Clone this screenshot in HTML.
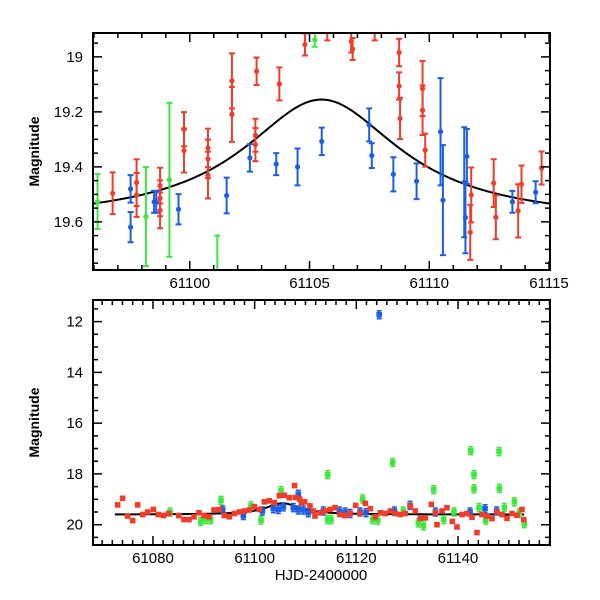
<!DOCTYPE html>
<html><head><meta charset="utf-8"><style>
html,body{margin:0;padding:0;background:#fff;}
svg{display:block;font-family:"Liberation Sans",sans-serif;}
</style></head><body>
<svg id="chart" width="600" height="600" viewBox="0 0 600 600">
<g id="top"></g>
<g id="bot"></g>
</svg>
<script>
// ---- top panel data (HJD-2400000, magnitude, error) ----
const topRedT=[61096.78,61097.78,61097.78,61098.76,61098.76,61098.76,61099.76,61099.76,61100.76,61100.76,61100.76,61101.76,61101.76,61102.74,61102.74,61102.79,61103.74,61104.81,61105.74,61106.74,61106.80,61107.72,61108.74,61108.74,61108.78,61109.72,61109.72,61109.83,61111.71,61111.75,61112.69,61112.78,61113.71,61113.85,61114.69];
const topRedM=[19.496,19.457,19.502,19.468,19.514,19.558,19.263,19.341,19.331,19.371,19.430,19.087,19.209,19.285,19.319,19.052,19.098,18.955,18.90,18.944,18.971,18.88,18.984,19.106,19.224,19.115,19.194,19.339,19.638,19.502,19.459,19.583,19.560,19.463,19.404];
const topRedE=[0.076,0.085,0.08,0.065,0.065,0.065,0.062,0.08,0.07,0.07,0.085,0.1,0.1,0.06,0.06,0.05,0.06,0.04,0.04,0.04,0.04,0.06,0.05,0.05,0.075,0.1,0.09,0.06,0.1,0.1,0.087,0.08,0.097,0.068,0.06];
const topBlueT=[61097.53,61097.53,61098.51,61098.60,61099.53,61101.54,61102.51,61103.61,61104.50,61105.51,61107.49,61107.60,61108.50,61109.47,61110.47,61110.57,61111.46,61111.51,61111.57,61113.47,61114.44];
const topBlueM=[19.480,19.619,19.527,19.527,19.554,19.504,19.367,19.390,19.400,19.307,19.247,19.359,19.427,19.452,19.272,19.521,19.456,19.584,19.362,19.527,19.492];
const topBlueE=[0.05,0.055,0.04,0.04,0.055,0.065,0.05,0.04,0.067,0.05,0.06,0.045,0.062,0.065,0.195,0.2,0.2,0.13,0.1,0.04,0.04];
const topGreenT=[61096.15,61098.17,61099.15,61101.15,61105.22,61114.17];
const topGreenM=[19.526,19.581,19.447,19.85,18.938,19.88];
const topGreenE=[0.1,0.18,0.28,0.2,0.025,0.1];
// ---- bottom panel data ----
const botRedT=[61073.05,61074.03,61075.02,61076.0,61076.98,61077.97,61078.95,61080.07,61081.05,61082.10,61083.08,61085.05,61086.10,61087.08,61088.07,61089.05,61090.03,61091.02,61092.0,61093.05,61094.03,61095.02,61096.0,61096.99,61097.97,61098.95,61099.94,61100.92,61101.90,61102.89,61103.87,61104.86,61105.84,61106.82,61107.87,61108.0,61108.85,61109.18,61109.84,61110.89,61111.54,61111.87,61112.86,61113.84,61114.82,61115.81,61116.79,61117.78,61118.76,61119.87,61120.72,61121.78,61122.76,61123.74,61124.72,61125.71,61126.69,61127.68,61128.66,61129.64,61130.63,61131.61,61132.59,61133.58,61134.76,61135.55,61135.87,61136.86,61137.84,61138.89,61139.81,61140.79,61141.78,61142.76,61143.74,61144.73,61145.71,61146.69,61147.68,61148.66,61149.64,61150.63,61151.61,61152.59,61152.92];
const botRedM=[19.22,18.96,19.66,19.84,19.22,19.60,19.50,19.40,19.60,19.64,19.56,19.64,19.80,19.80,19.69,19.53,19.64,19.69,19.42,19.40,19.64,19.69,19.56,19.50,19.46,19.42,19.29,19.40,19.10,19.06,19.13,18.86,18.84,18.94,18.46,18.93,18.99,19.13,19.10,19.26,19.46,19.66,19.53,19.46,19.40,19.33,19.60,19.64,19.56,19.24,19.56,19.16,19.37,19.69,19.53,19.56,19.46,19.56,19.60,19.56,19.26,19.46,19.75,19.73,19.20,19.53,20.0,19.46,19.33,19.87,20.09,19.60,19.56,19.71,20.31,19.60,19.66,19.76,19.50,19.60,19.75,19.56,19.63,19.40,19.80];
const botBlueT=[61093.7,61097.77,61101.51,61103.67,61104.66,61105.64,61107.61,61108.59,61108.59,61109.58,61110.56,61113.51,61116.66,61117.78,61118.76,61120.73,61121.91,61124.5,61127.48,61130.56,61135.55,61142.37,61145.32,61147.61];
const botBlueM=[19.42,19.64,19.46,19.37,19.40,19.30,19.33,18.80,19.42,19.42,19.53,19.46,19.46,19.50,19.56,19.50,19.53,11.73,19.46,19.24,19.50,19.50,19.37,19.46];
const botGreenT=[61083.34,61089.38,61090.36,61091.35,61093.38,61099.28,61101.25,61105.18,61114.37,61114.37,61115.02,61121.25,61123.22,61124.2,61127.15,61129.25,61132.2,61133.19,61135.22,61137.19,61139.22,61142.5,61143.15,61143.15,61144.14,61145.45,61148.07,61148.14,61149.12,61151.09,61152.07,61153.06];
const botGreenM=[19.50,19.87,19.80,19.80,19.04,19.26,19.82,18.66,18.03,19.80,19.80,18.99,19.80,19.82,17.55,19.46,19.93,20.04,18.62,19.80,19.50,17.09,18.59,18.03,19.33,19.82,17.12,18.57,19.33,19.10,19.53,19.96];
const xTicksTop=[61100,61105,61110,61115];
const yTicksTop=[19,19.2,19.4,19.6];
const xTicksBot=[61080,61100,61120,61140];
const yTicksBot=[12,14,16,18,20];
// model curve parameters
const modelBase=19.6, modelAmp=0.445, modelT0=61105.5, modelW=4.0;

const NS="http://www.w3.org/2000/svg";
const RED="#f23c2a",BLUE="#1c5fe4",GREEN="#3de83d";
function mk(p,tag,at){const e=document.createElementNS(NS,tag);for(const k in at)e.setAttribute(k,at[k]);p.appendChild(e);return e;}
function model(t){const u=(t-modelT0)/modelW;return modelBase-modelAmp/(1+u*u);}

function panel(g,P){
  const X=t=>P.x0+(t-P.t0)/(P.t1-P.t0)*(P.x1-P.x0);
  const Y=m=>P.y0+(m-P.m0)/(P.m1-P.m0)*(P.y1-P.y0);
  const clip="clip"+P.id;
  const cp=mk(g,"clipPath",{id:clip});mk(cp,"rect",{x:P.x0,y:P.y0,width:P.x1-P.x0,height:P.y1-P.y0});
  const data=mk(g,"g",{"clip-path":"url(#"+clip+")"});
  
  
  let d="";for(let t=P.c0;t<=P.c1;t+=0.1){d+=(d?"L":"M")+X(t).toFixed(2)+","+Y(model(t)).toFixed(2);}
  const cv=mk(data,"path",{d:d,fill:"none",stroke:"#000","stroke-width":2});
  
  
  P.series.forEach(s=>{
    const sg=mk(data,"g",{});
    
    
    s.T.forEach((t,i)=>{
      const x=X(t),y=Y(s.M[i]);
      if(s.E){const e=s.E[i],ya=Y(s.M[i]-e),yb=Y(s.M[i]+e);
        mk(sg,"path",{d:`M${x},${ya}V${yb}M${x-3},${ya}H${x+3}M${x-3},${yb}H${x+3}`,stroke:s.c,"stroke-width":2,fill:"none"});}
      else if(s.eb){mk(sg,"path",{d:`M${x},${y-4}V${y+4}M${x-2.5},${y-4}H${x+2.5}M${x-2.5},${y+4}H${x+2.5}`,stroke:s.c,"stroke-width":1.5,fill:"none"});}
      const pt=s.sq?mk(sg,"rect",{x:x-2.8,y:y-2.8,width:5.6,height:5.6,fill:s.c}):mk(sg,"circle",{cx:x,cy:y,r:s.r||2.6,fill:s.c});
      
      
    });
  });
  const fr=mk(g,"rect",{x:P.x0,y:P.y0,width:P.x1-P.x0,height:P.y1-P.y0,fill:"none",stroke:"#000","stroke-width":2});
  
  
  let td="";
  for(let t=Math.ceil(P.t0/P.xm)*P.xm;t<=P.t1+1e-6;t+=P.xm){const x=X(t);const maj=Math.abs(t/P.xM-Math.round(t/P.xM))<1e-6;const L=maj?9:5;td+=`M${x},${P.y1}v${-L}M${x},${P.y0}v${L}`;}
  for(let m=Math.ceil(P.m0/P.ym)*P.ym;m<=P.m1+1e-6;m+=P.ym){const y=Y(m);const maj=Math.abs(m/P.yM-Math.round(m/P.yM))<1e-4;const L=maj?9:5;td+=`M${P.x0},${y}h${L}M${P.x1},${y}h${-L}`;}
  const tk=mk(g,"path",{d:td,stroke:"#000","stroke-width":1.5,fill:"none"});
  
  
  P.xt.forEach(t=>{const e=mk(g,"text",{x:X(t),y:P.y1+P.xoff,"text-anchor":"middle","font-size":15});e.textContent=t;
    
    });
  P.yt.forEach(m=>{const e=mk(g,"text",{x:P.x0-10,y:Y(m)+5,"text-anchor":"end","font-size":15});e.textContent=P.yfmt(m);
    
    });
  const yl=mk(g,"text",{x:0,y:0,transform:`translate(39,${(P.y0+P.y1)/2}) rotate(-90)`,"text-anchor":"middle","font-size":14,"font-weight":"bold"});
  yl.textContent="Magnitude";
  
  
}
panel(document.getElementById("top"),{id:"t",x0:93,x1:550,y0:33,y1:270,t0:61095.96,t1:61115.04,m0:18.913,m1:19.775,c0:61095.9,c1:61115.1,xoff:18,
  xm:1,xM:5,ym:0.05,yM:0.2,xt:xTicksTop,yt:yTicksTop,yfmt:m=>m.toFixed(1).replace(/^19\.0$/,"19"),
  series:[{name:"red-series",T:topRedT,M:topRedM,E:topRedE,c:RED},{name:"blue-series",T:topBlueT,M:topBlueM,E:topBlueE,c:BLUE},{name:"green-series",T:topGreenT,M:topGreenM,E:topGreenE,c:GREEN}]});
panel(document.getElementById("bot"),{id:"b",x0:93,x1:550,y0:300,y1:545,t0:61068.2,t1:61158.1,m0:11.15,m1:20.8,c0:61072.5,c1:61153,xoff:18,
  xm:2,xM:20,ym:0.5,yM:2,xt:xTicksBot,yt:yTicksBot,yfmt:m=>String(m),
  series:[{name:"green-series",T:botGreenT,M:botGreenM,c:GREEN,sq:true,eb:true},{name:"blue-series",T:botBlueT,M:botBlueM,c:BLUE,sq:true,eb:true},{name:"red-series",T:botRedT,M:botRedM,c:RED,sq:true}]});
const xl=mk(document.getElementById("bot"),"text",{x:321,y:580,"text-anchor":"middle","font-size":15});
xl.textContent="HJD-2400000";


</script>
</body></html>
